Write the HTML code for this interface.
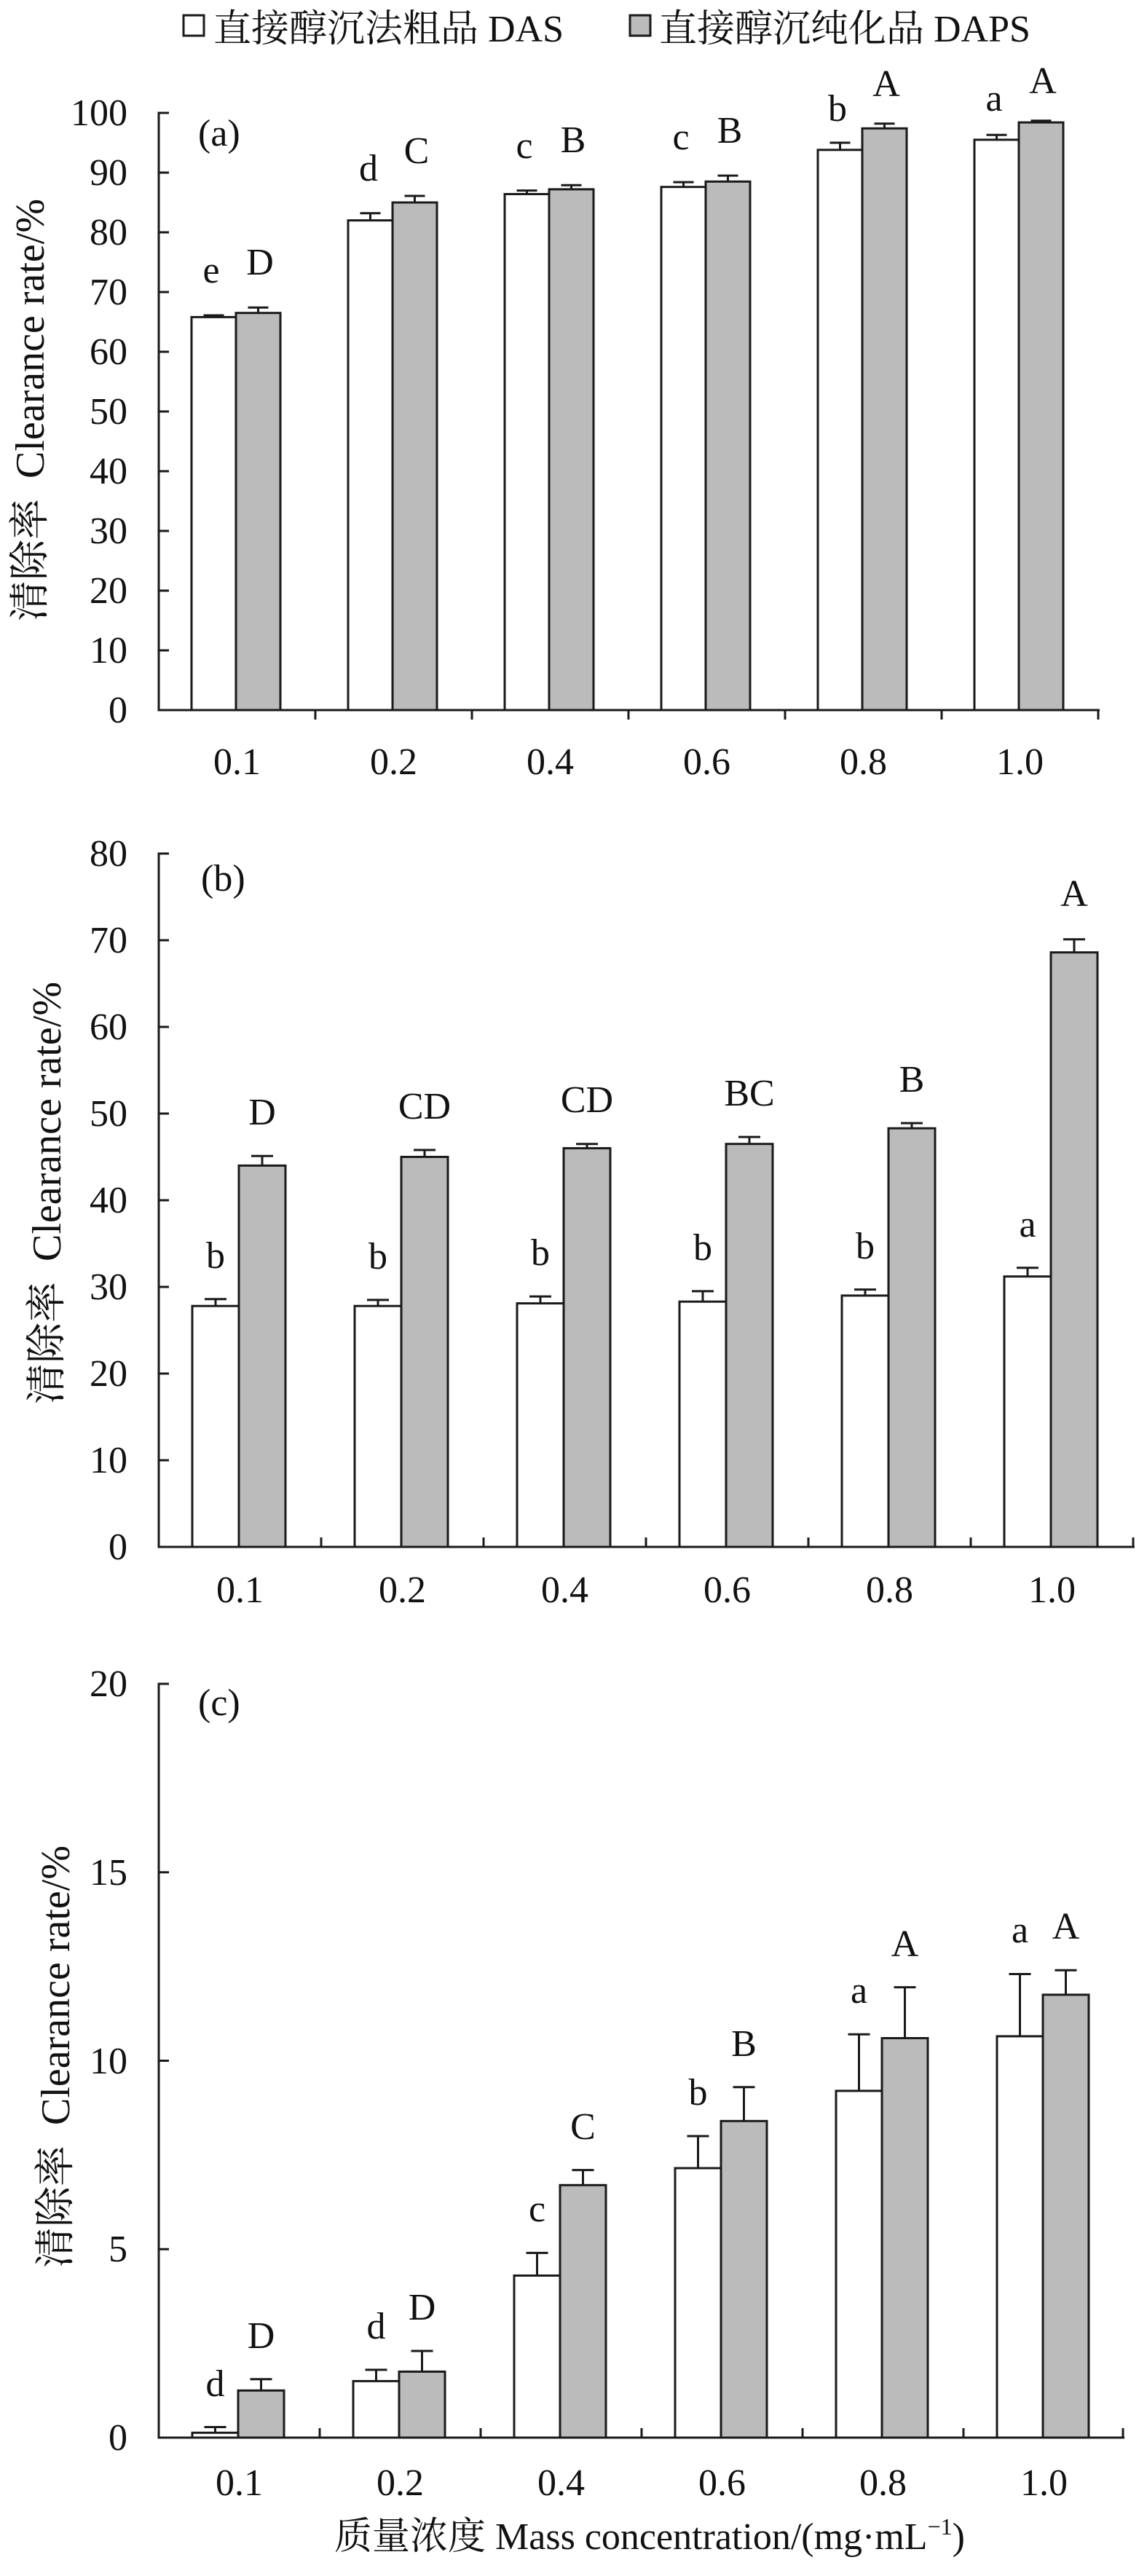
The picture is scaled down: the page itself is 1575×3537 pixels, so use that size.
<!DOCTYPE html>
<html><head><meta charset="utf-8"><style>
html,body{margin:0;padding:0;background:#fff}
svg{display:block}
text{font-family:"Liberation Serif","Noto Serif CJK SC","Noto Sans CJK SC",serif;fill:#111;font-size:52px}
.t{text-anchor:end}
.m{text-anchor:middle}
.yl{font-size:56px;text-anchor:middle}
.ax{stroke:#1a1a1a;stroke-width:3;fill:none}
.w{fill:#fff;stroke:#1a1a1a;stroke-width:3}
.g{fill:#bbb;stroke:#1a1a1a;stroke-width:3}
.e{stroke:#1a1a1a;stroke-width:3;fill:none}
</style></head><body>
<svg width="1575" height="3537" viewBox="0 0 1575 3537" xmlns="http://www.w3.org/2000/svg">
<!-- legend -->
<rect x="252" y="21" width="28" height="28" class="w"/>
<text x="293" y="57">直接醇沉法粗品 DAS</text>
<rect x="865" y="21" width="28" height="28" class="g"/>
<text x="905" y="57">直接醇沉纯化品 DAPS</text>

<!-- ===== Chart a ===== -->
<path class="ax" d="M232,155 H218 V975 H1510"/>
<path class="ax" d="M218,893h14M218,811h14M218,729h14M218,647h14M218,565h14M218,483h14M218,401h14M218,319h14M218,237h14"/>
<path class="ax" d="M433,975v13M648,975v13M863,975v13M1078,975v13M1293,975v13M1508,975v13"/>
<g class="t">
<text x="175" y="992">0</text><text x="175" y="910">10</text><text x="175" y="828">20</text><text x="175" y="746">30</text><text x="175" y="664">40</text><text x="175" y="582">50</text><text x="175" y="500">60</text><text x="175" y="418">70</text><text x="175" y="336">80</text><text x="175" y="254">90</text><text x="175" y="172">100</text>
</g>
<text x="272" y="200">(a)</text>
<text transform="translate(60,563) rotate(-90)" class="yl" xml:space="preserve">清除率  Clearance rate/%</text>
<rect x="263" y="435.4" width="61" height="539.6" class="w"/>
<rect x="478" y="302.6" width="61" height="672.4" class="w"/>
<rect x="693" y="266.5" width="61" height="708.5" class="w"/>
<rect x="908" y="256.7" width="61" height="718.3" class="w"/>
<rect x="1123" y="205.8" width="61" height="769.2" class="w"/>
<rect x="1338" y="191.9" width="61" height="783.1" class="w"/>
<rect x="324" y="429.7" width="61" height="545.3" class="g"/>
<rect x="539" y="278" width="61" height="697" class="g"/>
<rect x="754" y="259.9" width="61" height="715.1" class="g"/>
<rect x="969" y="249.3" width="61" height="725.7" class="g"/>
<rect x="1184" y="176.3" width="61" height="798.7" class="g"/>
<rect x="1399" y="168.1" width="61" height="806.9" class="g"/>
<path class="e" d="M293.5,435V433M279.5,433h28 M508.5,302.6V292.8M494.5,292.8h28 M723.5,266.5V261.6M709.5,261.6h28 M938.5,256.7V250.1M924.5,250.1h28 M1153.5,205.8V196M1139.5,196h28 M1368.5,191.9V185.3M1354.5,185.3h28
M354.5,429.7V422.3M340.5,422.3h28 M569.5,278V269M555.5,269h28 M784.5,259.9V254.2M770.5,254.2h28 M999.5,249.3V241.1M985.5,241.1h28 M1214.5,176.3V169.8M1200.5,169.8h28 M1429.5,168.1V165.7M1415.5,165.7h28"/>
<g class="m">
<text x="290" y="388">e</text><text x="506" y="248">d</text><text x="720" y="217">c</text><text x="935" y="205">c</text><text x="1150" y="166">b</text><text x="1365" y="152">a</text>
<text x="357" y="377">D</text><text x="572" y="224">C</text><text x="787" y="209">B</text><text x="1002" y="196">B</text><text x="1217" y="132">A</text><text x="1432" y="128">A</text>
<text x="325.5" y="1063">0.1</text><text x="540.5" y="1063">0.2</text><text x="755.5" y="1063">0.4</text><text x="970.5" y="1063">0.6</text><text x="1185.5" y="1063">0.8</text><text x="1400.5" y="1063">1.0</text>
</g>

<!-- ===== Chart b ===== -->
<path class="ax" d="M232,1172 H218 V2124 H1558"/>
<path class="ax" d="M218,2005h14M218,1886h14M218,1767h14M218,1648h14M218,1529h14M218,1410h14M218,1291h14"/>
<path class="ax" d="M441,2124v-13M664,2124v-13M887,2124v-13M1110,2124v-13M1333,2124v-13M1556,2124v-13"/>
<g class="t">
<text x="175" y="2141">0</text><text x="175" y="2022">10</text><text x="175" y="1903">20</text><text x="175" y="1784">30</text><text x="175" y="1665">40</text><text x="175" y="1546">50</text><text x="175" y="1427">60</text><text x="175" y="1308">70</text><text x="175" y="1189">80</text>
</g>
<text x="276" y="1223">(b)</text>
<text transform="translate(83,1638) rotate(-90)" class="yl" xml:space="preserve">清除率  Clearance rate/%</text>
<rect x="264" y="1793.2" width="64" height="330.8" class="w"/>
<rect x="487" y="1793.2" width="64" height="330.8" class="w"/>
<rect x="710" y="1789.6" width="64" height="334.4" class="w"/>
<rect x="933" y="1787.2" width="64" height="336.8" class="w"/>
<rect x="1156" y="1778.9" width="64" height="345.1" class="w"/>
<rect x="1379" y="1752.7" width="64" height="371.3" class="w"/>
<rect x="328" y="1600.4" width="64" height="523.6" class="g"/>
<rect x="551" y="1588.5" width="64" height="535.5" class="g"/>
<rect x="774" y="1576.6" width="64" height="547.4" class="g"/>
<rect x="997" y="1570.7" width="64" height="553.3" class="g"/>
<rect x="1220" y="1549.2" width="64" height="574.8" class="g"/>
<rect x="1443" y="1307.7" width="64" height="816.3" class="g"/>
<path class="e" d="M296,1793V1783.7M281,1783.7h30 M519,1793V1784.9M504,1784.9h30 M742,1789.6V1780.1M727,1780.1h30 M965,1787.2V1772.9M950,1772.9h30 M1188,1778.9V1770.6M1173,1770.6h30 M1411,1752.7V1740.8M1396,1740.8h30
M360,1600.4V1587.3M345,1587.3h30 M583,1588.5V1579M568,1579h30 M806,1576.6V1570.7M791,1570.7h30 M1029,1570.7V1561.1M1014,1561.1h30 M1252,1549.2V1542.1M1237,1542.1h30 M1475,1307.7V1289.8M1460,1289.8h30"/>
<g class="m">
<text x="296" y="1741">b</text><text x="519" y="1742">b</text><text x="742" y="1737">b</text><text x="965" y="1730">b</text><text x="1188" y="1728">b</text><text x="1411" y="1698">a</text>
<text x="360" y="1544">D</text><text x="583" y="1536">CD</text><text x="806" y="1527">CD</text><text x="1029" y="1518">BC</text><text x="1252" y="1499">B</text><text x="1475" y="1244">A</text>
<text x="329.5" y="2200">0.1</text><text x="552.5" y="2200">0.2</text><text x="775.5" y="2200">0.4</text><text x="998.5" y="2200">0.6</text><text x="1221.5" y="2200">0.8</text><text x="1444.5" y="2200">1.0</text>
</g>

<!-- ===== Chart c ===== -->
<path class="ax" d="M232,2312 H218 V3347 H1544"/>
<path class="ax" d="M218,3088.25h14M218,2829.5h14M218,2570.75h14"/>
<path class="ax" d="M439,3347v-13M660,3347v-13M881,3347v-13M1102,3347v-13M1323,3347v-13M1542,3347v-13"/>
<g class="t">
<text x="175" y="3364">0</text><text x="175" y="3105">5</text><text x="175" y="2847">10</text><text x="175" y="2588">15</text><text x="175" y="2329">20</text>
</g>
<text x="272" y="2355">(c)</text>
<text transform="translate(95,2824) rotate(-90)" class="yl" xml:space="preserve">清除率  Clearance rate/%</text>
<rect x="264" y="3340.3" width="63" height="6.7" class="w"/>
<rect x="485" y="3269.4" width="63" height="77.6" class="w"/>
<rect x="706" y="3124.5" width="63" height="222.5" class="w"/>
<rect x="927" y="2977" width="63" height="370" class="w"/>
<rect x="1148" y="2870.9" width="63" height="476.1" class="w"/>
<rect x="1369" y="2795.9" width="63" height="551.1" class="w"/>
<rect x="327" y="3282.3" width="63" height="64.7" class="g"/>
<rect x="548" y="3256.4" width="63" height="90.6" class="g"/>
<rect x="769" y="3000.3" width="63" height="346.7" class="g"/>
<rect x="990" y="2912.3" width="63" height="434.7" class="g"/>
<rect x="1211" y="2798.5" width="63" height="548.5" class="g"/>
<rect x="1432" y="2738.9" width="63" height="608.1" class="g"/>
<path class="e" d="M295.5,3340V3332.5M280.5,3332.5h30 M516.5,3269.4V3253.9M501.5,3253.9h30 M737.5,3124.5V3093.4M722.5,3093.4h30 M958.5,2977V2933M943.5,2933h30 M1179.5,2870.9V2793.3M1164.5,2793.3h30 M1400.5,2795.9V2710.5M1385.5,2710.5h30
M358.5,3282.3V3266.8M343.5,3266.8h30 M579.5,3256.4V3228M564.5,3228h30 M800.5,3000.3V2979.6M785.5,2979.6h30 M1021.5,2912.3V2865.7M1006.5,2865.7h30 M1242.5,2798.5V2728.6M1227.5,2728.6h30 M1463.5,2738.9V2705.3M1448.5,2705.3h30"/>
<g class="m">
<text x="295.5" y="3290">d</text><text x="516.5" y="3211">d</text><text x="737.5" y="3050">c</text><text x="958.5" y="2890">b</text><text x="1179.5" y="2750">a</text><text x="1400.5" y="2667">a</text>
<text x="358.5" y="3224">D</text><text x="579.5" y="3185">D</text><text x="800.5" y="2937">C</text><text x="1021.5" y="2823">B</text><text x="1242.5" y="2686">A</text><text x="1463.5" y="2662">A</text>
<text x="328.5" y="3426">0.1</text><text x="549.5" y="3426">0.2</text><text x="770.5" y="3426">0.4</text><text x="991.5" y="3426">0.6</text><text x="1212.5" y="3426">0.8</text><text x="1433.5" y="3426">1.0</text>
<text x="892" y="3500" font-size="54">质量浓度 Mass concentration/(mg·mL<tspan font-size="32" dy="-20">−1</tspan><tspan dy="20">)</tspan></text>
</g>
</svg>
</body></html>
